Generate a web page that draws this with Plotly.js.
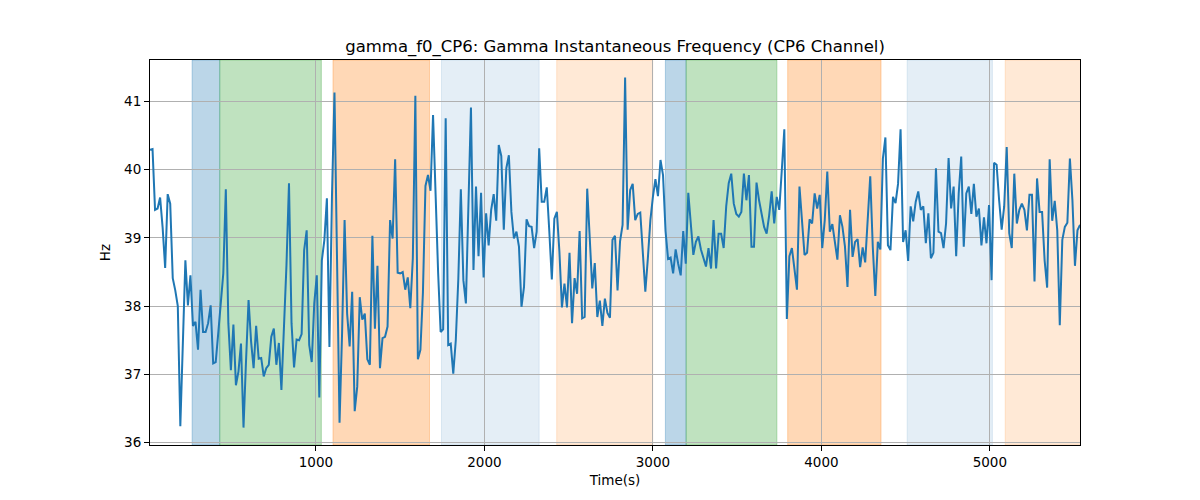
<!DOCTYPE html>
<html>
<head>
<meta charset="utf-8">
<script src="https://cdn.plot.ly/plotly-3.0.1.min.js"></script>
<style>
  html, body { margin: 0; padding: 0; background: #fff; }
  #chart { width: 1200px; height: 500px; }
</style>
</head>
<body>
<div id="chart"></div>
<script>
// sampling of the signal (seconds)
const startTime = 15;
const sampleStep = 15;

// gamma instantaneous frequency, Hz
const freqHz = [
  40.29, 40.30, 39.41, 39.43, 39.59, 39.15, 38.56, 39.64, 39.50, 38.41,
  38.23, 38.00, 36.24, 37.45, 38.67, 38.01, 38.45, 37.71, 37.77, 37.36,
  38.24, 37.62, 37.62, 37.75, 38.01, 37.16, 37.18, 37.60, 38.00, 38.48,
  39.71, 37.75, 37.06, 37.73, 36.84, 37.04, 37.45, 36.22, 37.20, 38.09,
  37.48, 37.09, 37.71, 37.23, 37.24, 36.97, 37.09, 37.14, 37.55, 37.67,
  37.14, 37.46, 36.77, 37.60, 38.60, 39.80, 37.75, 37.10, 37.51, 37.50,
  37.59, 38.82, 39.11, 37.43, 37.18, 38.04, 38.45, 36.66, 38.67, 38.97,
  39.58, 37.40, 39.60, 41.13, 38.45, 36.29, 37.60, 39.26, 37.89, 37.41,
  38.21, 36.46, 36.82, 38.13, 37.80, 37.89, 37.22, 37.14, 39.03, 37.67,
  38.59, 37.09, 37.53, 37.55, 37.70, 39.26, 38.99, 40.15, 38.49, 38.48,
  38.50, 38.24, 38.42, 37.97, 38.70, 41.08, 37.22, 37.36, 38.20, 39.76,
  39.92, 39.69, 40.80, 39.60, 38.50, 37.62, 37.66, 40.75, 37.43, 37.45,
  37.01, 37.50, 38.40, 39.71, 38.38, 38.04, 39.30, 40.91, 38.53, 39.75,
  38.73, 39.66, 38.42, 39.36, 38.89, 39.41, 39.64, 39.25, 40.36, 40.20,
  39.12, 40.02, 40.21, 39.38, 38.99, 39.09, 38.87, 37.99, 38.28, 39.27,
  39.17, 39.16, 38.85, 39.09, 40.31, 39.53, 39.53, 39.74, 39.10, 38.39,
  39.28, 39.38, 38.80, 37.98, 38.33, 37.98, 38.78, 37.75, 38.41, 38.18,
  39.10, 37.82, 37.84, 39.72, 39.00, 38.26, 38.63, 37.84, 38.08, 37.71,
  38.11, 37.90, 37.83, 38.97, 39.03, 38.23, 38.95, 39.19, 41.35, 39.12,
  39.70, 39.79, 39.26, 39.35, 39.37, 38.80, 38.21, 38.70, 39.26, 39.60,
  39.86, 39.61, 40.14, 39.92, 39.10, 38.69, 38.71, 38.48, 38.83, 38.62,
  38.45, 39.10, 38.62, 39.66, 39.21, 38.75, 38.94, 39.02, 38.83, 38.71,
  38.58, 38.85, 38.55, 39.26, 38.55, 39.06, 39.06, 38.85, 39.46, 39.80,
  39.94, 39.50, 39.35, 39.31, 39.38, 39.94, 39.55, 39.92, 38.87, 38.87,
  39.81, 39.55, 39.36, 39.16, 39.06, 39.33, 39.68, 39.21, 39.60, 39.41,
  39.99, 40.59, 37.81, 38.73, 38.85, 38.53, 38.24, 39.75, 39.26, 38.75,
  38.78, 39.27, 39.21, 39.65, 39.43, 39.63, 38.85, 39.26, 39.97, 39.09,
  39.20, 38.92, 38.68, 39.33, 39.16, 38.87, 38.28, 39.41, 38.72, 38.94,
  38.98, 38.57, 38.86, 38.64, 39.38, 39.90, 38.87, 38.15, 38.94, 38.83,
  40.16, 40.47, 38.89, 38.82, 39.60, 39.51, 39.79, 40.59, 38.94, 39.11,
  38.66, 39.46, 39.24, 39.53, 39.68, 39.41, 39.46, 38.92, 39.36, 38.70,
  38.78, 40.02, 39.09, 39.07, 38.85, 39.21, 40.17, 39.43, 39.75, 38.73,
  39.65, 40.19, 38.87, 39.65, 39.75, 39.35, 39.79, 39.31, 39.43, 38.89,
  39.30, 38.92, 39.48, 38.38, 40.10, 40.07, 39.55, 39.12, 39.46, 40.33,
  39.07, 38.85, 39.94, 39.21, 39.41, 39.50, 39.41, 39.11, 39.63, 39.63,
  38.36, 39.87, 39.38, 39.38, 38.67, 38.27, 40.15, 39.25, 39.54, 39.11,
  37.72, 38.97, 39.16, 39.22, 40.16, 39.55, 38.59, 39.11, 39.19
];

// shaded intervals (seconds)
const spanStarts = [265, 429, 1101, 1745, 2429, 3074, 3197, 3800, 4509, 5091];
const spanEnds   = [429, 1032, 1674, 2325, 2999, 3197, 3736, 4354, 5015, 5600];
const spanColors = [
  'rgba(31,119,180,0.3)', 'rgba(44,160,44,0.3)', 'rgba(255,127,14,0.3)',
  'rgba(31,119,180,0.12)', 'rgba(255,127,14,0.17)',
  'rgba(31,119,180,0.3)', 'rgba(44,160,44,0.3)', 'rgba(255,127,14,0.3)',
  'rgba(31,119,180,0.12)', 'rgba(255,127,14,0.17)'
];

const timeSec = freqHz.map((_, i) => startTime + i * sampleStep);

const shapes = spanStarts.map((s, i) => ({
  type: 'rect',
  xref: 'x',
  yref: 'paper',
  x0: s,
  x1: spanEnds[i],
  y0: 0,
  y1: 1,
  fillcolor: spanColors[i],
  line: { color: spanColors[i], width: 1 },
  layer: 'below',
}));

const trace = {
  x: timeSec,
  y: freqHz,
  type: 'scatter',
  mode: 'lines',
  line: { color: '#1f77b4', width: 2 },
  hoverinfo: 'x+y',
};

const axisCommon = {
  showgrid: true,
  gridcolor: '#b0b0b0',
  gridwidth: 1,
  zeroline: false,
  showline: true,
  linecolor: '#000',
  linewidth: 1,
  mirror: true,
  ticks: 'outside',
  ticklen: 5,
  tickwidth: 1,
  tickcolor: '#000',
  tickfont: { family: 'DejaVu Sans', size: 13.5, color: '#000' },
};

const layout = {
  width: 1200,
  height: 500,
  paper_bgcolor: '#fff',
  plot_bgcolor: '#fff',
  font: { family: 'DejaVu Sans', color: '#000' },
  margin: { l: 150, r: 120, t: 60, b: 55 },
  title: {
    text: 'gamma_f0_CP6: Gamma Instantaneous Frequency (CP6 Channel)',
    font: { family: 'DejaVu Sans', size: 16.5, color: '#000' },
    x: 0.5125,
    xanchor: 'center',
    y: 0.907,
    yanchor: 'middle',
  },
  xaxis: {
    ...axisCommon,
    range: [startTime, startTime + (freqHz.length - 1) * sampleStep],
    tickvals: [1000, 2000, 3000, 4000, 5000],
    title: { text: 'Time(s)', font: { family: 'DejaVu Sans', size: 13.5 }, standoff: 6 },
  },
  yaxis: {
    ...axisCommon,
    range: [35.965, 41.605],
    tickvals: [36, 37, 38, 39, 40, 41],
    title: { text: 'Hz', font: { family: 'DejaVu Sans', size: 13.5 }, standoff: 10 },
  },
  shapes: shapes,
  showlegend: false,
};

Plotly.newPlot('chart', [trace], layout, { displayModeBar: false, responsive: false });
</script>
</body>
</html>
